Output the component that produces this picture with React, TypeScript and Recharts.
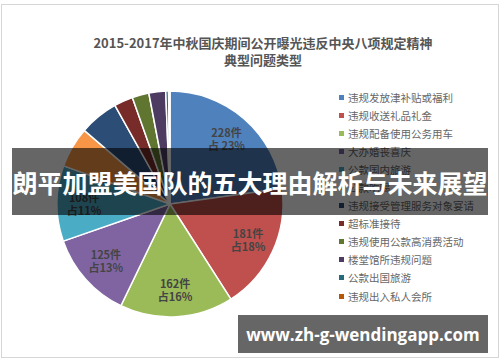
import React from "react";
import { PieChart, Pie, Cell } from "recharts";

const categories = [
  "违规发放津补贴或福利",
  "违规收送礼品礼金",
  "违规配备使用公务用车",
  "大办婚丧喜庆",
  "公款国内旅游",
  "公款吃喝",
  "违规接受管理服务对象宴请",
  "超标准接待",
  "违规使用公款高消费活动",
  "楼堂馆所违规问题",
  "公款出国旅游",
  "违规出入私人会所",
];
const counts = [228, 181, 162, 125, 108, 58, 56, 27, 24, 24, 4, 2];
const COLORS = [
  "#4F81BD",
  "#C0504D",
  "#9BBB59",
  "#8064A2",
  "#4BACC6",
  "#F79646",
  "#2C4D75",
  "#772C2A",
  "#5F7530",
  "#4D3B62",
  "#276A7C",
  "#B65708",
];

const data = categories.map((name, i) => ({ name, value: counts[i] }));
const total = counts.reduce((a, b) => a + b, 0);
const RAD = Math.PI / 180;
const FONT = "'Noto Sans CJK SC', 'Noto Sans', sans-serif";

const renderLabel = (props: any) => {
  const { cx, cy, midAngle, outerRadius, index, value } = props;
  if (index > 4) return null;
  const r = outerRadius * 0.76;
  const x = cx + r * Math.cos(-midAngle * RAD);
  const y = cy + r * Math.sin(-midAngle * RAD);
  const pct = Math.round((value / total) * 100);
  return (
    <text
      x={x}
      y={y}
      textAnchor="middle"
      fill="#444"
      fontSize={11}
      fontWeight="bold"
      fontFamily={FONT}
    >
      <tspan x={x} dy={-2}>{`${value}件`}</tspan>
      <tspan x={x} dy={13}>{index === 0 ? `占 ${pct}%` : `占${pct}%`}</tspan>
    </text>
  );
};

export default function App() {
  return (
    <div
      style={{
        position: "absolute",
        left: 0,
        top: 0,
        width: 500,
        height: 362,
        background: "#fff",
        fontFamily: FONT,
        overflow: "hidden",
      }}
    >
      <div
        style={{
          position: "absolute",
          left: 1,
          top: 4,
          width: 496,
          height: 352,
          border: "1px solid #d6d6d6",
        }}
      />
      <div
        style={{
          position: "absolute",
          left: 0,
          width: 526,
          top: 34,
          textAlign: "center",
          fontSize: 13,
          fontWeight: "bold",
          color: "#555",
          lineHeight: "17px",
        }}
      >
        2015-2017年中秋国庆期间公开曝光违反中央八项规定精神
        <br />
        典型问题类型
      </div>
      <div style={{ position: "absolute", left: 0, top: 0 }}>
        <PieChart width={500} height={362}>
          <Pie
            data={data}
            dataKey="value"
            nameKey="name"
            cx={165}
            cy={199}
            outerRadius={113}
            startAngle={90}
            endAngle={-270}
            stroke="#fff"
            strokeWidth={1.5}
            label={renderLabel}
            labelLine={false}
            isAnimationActive={false}
          >
            {data.map((d, i) => (
              <Cell key={d.name} fill={COLORS[i]} />
            ))}
          </Pie>
        </PieChart>
      </div>
      <div style={{ position: "absolute", left: 339, top: 88 }}>
        {categories.map((c, i) => (
          <div
            key={c}
            style={{
              display: "flex",
              alignItems: "center",
              height: 18.1,
              fontSize: 10.5,
              color: "#666",
              whiteSpace: "nowrap",
            }}
          >
            <span
              style={{
                width: 5,
                height: 5,
                background: COLORS[i],
                marginRight: 4,
                display: "inline-block",
              }}
            />
            {c}
          </div>
        ))}
      </div>
      <div
        style={{
          position: "absolute",
          left: 12,
          top: 148,
          width: 476,
          height: 67,
          background: "rgba(0,0,0,0.6)",
          color: "#fff",
          fontSize: 25,
          fontWeight: "bold",
          display: "flex",
          alignItems: "center",
          justifyContent: "center",
          whiteSpace: "nowrap",
        }}
      >
        朗平加盟美国队的五大理由解析与未来展望
      </div>
      <div
        style={{
          position: "absolute",
          left: 238,
          top: 315,
          width: 250,
          height: 38,
          background: "#666",
          color: "#fff",
          fontSize: 17,
          fontWeight: "bold",
          display: "flex",
          alignItems: "center",
          justifyContent: "center",
          fontFamily: "'Open Sans', 'DejaVu Sans', sans-serif",
        }}
      >
        www.zh-g-wendingapp.com
      </div>
    </div>
  );
}
